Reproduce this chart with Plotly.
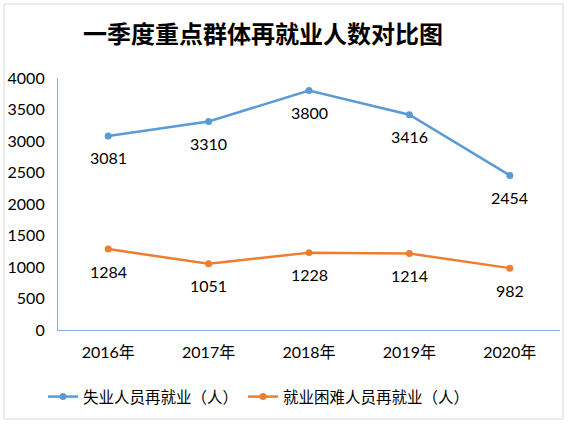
import plotly.graph_objects as go

years = ["2016年", "2017年", "2018年", "2019年", "2020年"]
unemployed = [3081, 3310, 3800, 3416, 2454]
difficult = [1284, 1051, 1228, 1214, 982]
series_names = ["失业人员再就业（人）", "就业困难人员再就业（人）"]
title_text = "一季度重点群体再就业人数对比图"

W, H = 571, 426
L, R, T, B = 58, 11, 78, 96
pw, ph = W - L - R, H - T - B

def px_x(x):
    return (x - L) / pw

def px_y(y):
    return (H - B - y) / ph

num_font = dict(family="Lato, 'Noto Sans CJK SC', sans-serif", size=16, color="#000000")
colors = ["#5B9BD5", "#ED7D31"]

fig = go.Figure()
annotations = []
for name, vals, c in zip(series_names, [unemployed, difficult], colors):
    fig.add_trace(go.Scatter(
        x=years, y=vals, name=name, mode="lines+markers",
        line=dict(color=c, width=2.5), marker=dict(color=c, size=7),
    ))
    for xv, yv in zip(years, vals):
        annotations.append(dict(x=xv, y=yv, xref="x", yref="y", text=str(yv),
                                showarrow=False, yshift=-22, font=num_font,
                                xanchor="center", yanchor="middle"))

fig.update_layout(
    width=W, height=H,
    margin=dict(l=L, r=R, t=T, b=B, autoexpand=False),
    paper_bgcolor="white", plot_bgcolor="white",
    title=dict(text=title_text, x=263 / W, xanchor="center", y=1 - 35 / H, yanchor="middle",
               font=dict(family="'Noto Sans CJK SC', sans-serif", size=24, color="#000000", weight="bold")),
    xaxis=dict(type="category", range=[-0.5, 4.5], showgrid=False, showline=True,
               linecolor="#8DB0DA", linewidth=1.2, ticks="", zeroline=False,
               ticklabelstandoff=8,
               tickfont=dict(family="Lato, 'Noto Sans CJK SC', sans-serif", size=16, color="#000000")),
    yaxis=dict(range=[0, 4000], dtick=500, showgrid=False, showline=True,
               linecolor="#8DB0DA", linewidth=1.2, ticks="", zeroline=False,
               ticklabelstandoff=9,
               tickfont=num_font),
    legend=dict(orientation="h", x=px_x(259), y=px_y(397), xanchor="center", yanchor="middle",
                font=dict(family="'Noto Sans CJK SC', sans-serif", size=15.5, color="#000000"),
                itemwidth=30, tracegroupgap=0),
    showlegend=True,
    annotations=annotations,
    shapes=[dict(type="rect", xref="paper", yref="paper",
                 x0=px_x(4), x1=px_x(563), y0=px_y(419), y1=px_y(4),
                 line=dict(color="#D9D9D9", width=1), layer="below")],
)

fig.write_html("out.html", config={"displayModeBar": False},
               post_script="document.body.style.margin='0';document.body.style.padding='0';")
